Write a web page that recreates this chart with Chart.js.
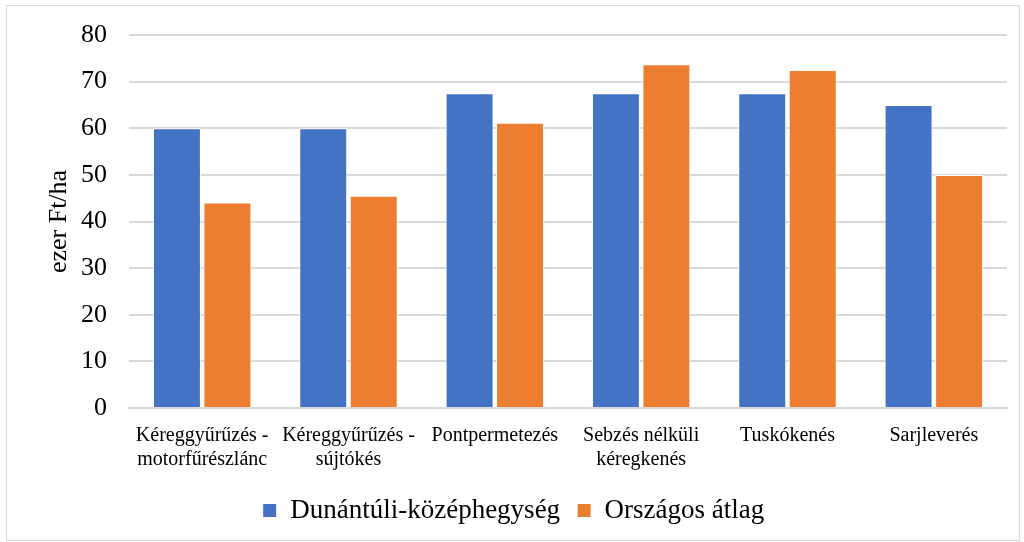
<!DOCTYPE html>
<html lang="hu">
<head>
    <meta charset="UTF-8">
    <title>Költségek ezer Ft/ha</title>
    <script src="https://cdn.jsdelivr.net/npm/chart.js"></script>
    <style>
        body {
            margin: 0;
            background-color: #fff;
        }
        #frame {
            position: absolute;
            left: 6px;
            top: 5px;
            width: 1012px;
            height: 534px;
            border: 1px solid #d9d9d9;
            pointer-events: none;
        }
        #chart-container {
            position: relative;
            width: 1024px;
            height: 542px;
        }
    </style>
</head>
<body>
    <div id="chart-container">
        <canvas id="costChart"></canvas>
    </div>
    <div id="frame"></div>

    <script>
        const categories = [
            ['Kéreggyűrűzés -', 'motorfűrészlánc'],
            ['Kéreggyűrűzés -', 'sújtókés'],
            'Pontpermetezés',
            ['Sebzés nélküli', 'kéregkenés'],
            'Tuskókenés',
            'Sarjleverés'
        ];
        const dunantuli = [60, 60, 67.5, 67.5, 67.5, 65];
        const orszagos = [44.1, 45.5, 61.2, 73.7, 72.5, 50];

        const serif = "'Liberation Serif', 'Times New Roman', serif";

        const ctx = document.getElementById('costChart').getContext('2d');
        const costChart = new Chart(ctx, {
            type: 'bar',
            data: {
                labels: categories,
                datasets: [
                    {
                        label: 'Dunántúli-középhegység',
                        data: dunantuli,
                        backgroundColor: '#4472C4',
                        borderColor: '#ffffff',
                        borderWidth: 1,
                        categoryPercentage: 0.69,
                        barPercentage: 0.95
                    },
                    {
                        label: 'Országos átlag',
                        data: orszagos,
                        backgroundColor: '#ED7D31',
                        borderColor: '#ffffff',
                        borderWidth: 1,
                        categoryPercentage: 0.69,
                        barPercentage: 0.95
                    }
                ]
            },
            options: {
                responsive: true,
                maintainAspectRatio: false,
                animation: false,
                layout: {
                    padding: { left: 20, right: 17, top: 35, bottom: 8 }
                },
                scales: {
                    x: {
                        grid: {
                            display: false
                        },
                        border: {
                            color: '#d9d9d9',
                            width: 2
                        },
                        ticks: {
                            color: '#000',
                            font: { family: serif, size: 20 },
                            maxRotation: 0,
                            autoSkip: false,
                            padding: 8
                        }
                    },
                    y: {
                        min: 0,
                        max: 80,
                        grid: {
                            color: '#d9d9d9',
                            lineWidth: 2,
                            drawTicks: false
                        },
                        border: {
                            display: false
                        },
                        ticks: {
                            stepSize: 10,
                            color: '#000',
                            font: { family: serif, size: 26 },
                            padding: 22
                        },
                        title: {
                            display: true,
                            text: 'ezer Ft/ha',
                            color: '#000',
                            font: { family: serif, size: 26 },
                            padding: { top: 24, bottom: 0 }
                        },
                        afterFit: (scale) => {
                            scale.width = 109;
                            scale.paddingTop = 0;
                            scale.paddingBottom = 0;
                        }
                    }
                },
                plugins: {
                    legend: {
                        position: 'bottom',
                        labels: {
                            color: '#000',
                            font: { family: serif, size: 27 },
                            boxWidth: 14,
                            boxHeight: 14,
                            padding: 17
                        }
                    },
                    tooltip: {
                        enabled: false
                    }
                }
            }
        });
    </script>
</body>
</html>
